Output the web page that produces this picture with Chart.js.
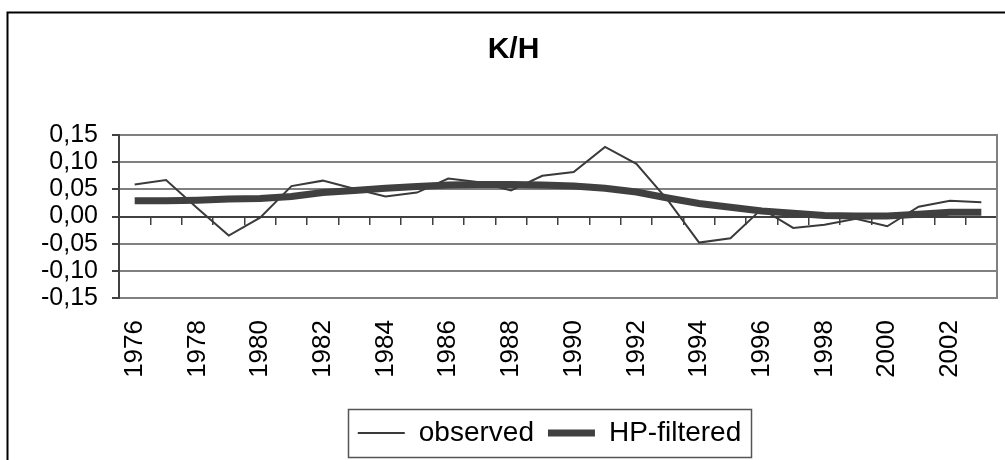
<!DOCTYPE html>
<html>
<head>
<meta charset="utf-8">
<script src="https://cdn.jsdelivr.net/npm/chart.js@4/dist/chart.umd.min.js"></script>
<style>
  html, body { margin: 0; padding: 0; background: #fff; }
  canvas { display: block; }
</style>
</head>
<body>
<canvas id="kh-chart" width="1005" height="460"></canvas>
<script>
// K/H: observed vs HP-filtered, 1976-2003
const years = ['1976', '1977', '1978', '1979', '1980', '1981', '1982', '1983', '1984', '1985',
  '1986', '1987', '1988', '1989', '1990', '1991', '1992', '1993', '1994', '1995',
  '1996', '1997', '1998', '1999', '2000', '2001', '2002', '2003'];

const observed = [0.059, 0.067, 0.015, -0.035, -0.002, 0.056, 0.066, 0.051, 0.037, 0.044,
  0.070, 0.063, 0.048, 0.075, 0.082, 0.128, 0.097, 0.030, -0.048, -0.040,
  0.014, -0.021, -0.015, -0.004, -0.018, 0.018, 0.029, 0.026];

const hpFiltered = [0.029, 0.029, 0.030, 0.032, 0.033, 0.037, 0.044, 0.048, 0.052, 0.055,
  0.058, 0.059, 0.059, 0.058, 0.056, 0.052, 0.045, 0.034, 0.024, 0.017,
  0.010, 0.006, 0.002, 0.001, 0.001, 0.004, 0.008, 0.008];

const yMin = -0.15;
const yMax = 0.15;
const yStep = 0.05;

const FONT = 'Arial, "Liberation Sans", sans-serif';
const legendCenterShift = 36; // legend sits a bit right of the canvas centre

// frame around the whole chart + box around the legend
const frames = {
  id: 'frames',
  afterLayout(chart) {
    const lg = chart.legend;
    lg.left += legendCenterShift;
    lg.right += legendCenterShift;
  },
  beforeDraw(chart) {
    const ctx = chart.ctx;
    ctx.save();
    ctx.strokeStyle = '#000';
    ctx.lineWidth = 2;
    ctx.strokeRect(7.5, 12.5, 1200, 600);
    ctx.restore();
  },
  afterDraw(chart) {
    const boxes = chart.legend.legendHitBoxes;
    if (!boxes || !boxes.length) return;
    const first = boxes[0];
    const last = boxes[boxes.length - 1];
    const cy = first.top + first.height / 2;
    const ctx = chart.ctx;
    ctx.save();
    ctx.strokeStyle = '#555';
    ctx.lineWidth = 1.5;
    ctx.strokeRect(Math.round(first.left - 10) + 0.5, Math.round(cy - 24) + 0.5,
      Math.round(last.left + last.width - first.left + 20), 48);
    ctx.restore();
  }
};

new Chart(document.getElementById('kh-chart'), {
  type: 'line',
  data: {
    labels: years,
    datasets: [
      {
        label: 'observed',
        data: observed,
        borderColor: '#3a3a3a',
        backgroundColor: '#3a3a3a',
        borderWidth: 2,
        pointRadius: 0,
        tension: 0,
        order: 1
      },
      {
        label: 'HP-filtered',
        data: hpFiltered,
        borderColor: '#404040',
        backgroundColor: '#404040',
        borderWidth: 7,
        pointRadius: 0,
        tension: 0,
        order: 0
      }
    ]
  },
  options: {
    responsive: false,
    animation: false,
    layout: { padding: { left: 22, right: 0, top: 12, bottom: 3 } },
    plugins: {
      title: {
        display: true,
        text: 'K/H',
        color: '#000',
        font: { family: FONT, size: 30, weight: 'bold' },
        padding: { top: 20, bottom: 67 }
      },
      legend: {
        position: 'bottom',
        labels: {
          color: '#000',
          font: { family: FONT, size: 28 },
          usePointStyle: true,
          pointStyle: 'line',
          pointStyleWidth: 47,
          padding: 14,
          sort: (a, b) => a.datasetIndex - b.datasetIndex
        }
      },
      tooltip: { enabled: false }
    },
    scales: {
      x: {
        type: 'category',
        position: 'bottom',
        offset: true,
        grid: { display: false, drawTicks: false },
        border: { display: false },
        ticks: {
          autoSkip: false,
          minRotation: 90,
          maxRotation: 90,
          padding: 22,
          color: '#000',
          font: { family: FONT, size: 26 },
          callback: function (value, index) {
            return index % 2 === 0 ? this.getLabelForValue(value) : '';
          }
        },
        afterFit: (scale) => {
          scale.height = 107;
          scale.paddingLeft = 0;
          scale.paddingRight = 0;
        }
      },
      xZero: {
        type: 'category',
        axis: 'x',
        position: { y: 0 },
        offset: true,
        grid: {
          display: true,
          offset: true,
          drawOnChartArea: false,
          drawTicks: true,
          tickLength: 7,
          color: '#404040',
          lineWidth: 1.5
        },
        border: { display: true, color: '#404040', width: 2 },
        ticks: { display: false }
      },
      y: {
        min: yMin,
        max: yMax,
        grid: {
          color: '#808080',
          lineWidth: 2,
          tickColor: '#404040',
          tickLength: 7
        },
        border: { color: '#404040', width: 2 },
        ticks: {
          stepSize: yStep,
          autoSkip: false,
          padding: 14,
          color: '#000',
          font: { family: FONT, size: 25 },
          callback: (v) => (Math.abs(v) < 1e-9 ? 0 : v).toFixed(2).replace('.', ',')
        },
        afterFit: (scale) => {
          scale.width = 97;
          scale.paddingTop = 0;
          scale.paddingBottom = 0;
        }
      },
      yEdge: {
        type: 'linear',
        position: 'right',
        min: yMin,
        max: yMax,
        grid: { drawOnChartArea: false, drawTicks: false },
        border: { color: '#808080', width: 2 },
        ticks: { display: false },
        afterFit: (scale) => { scale.width = 8; }
      }
    }
  },
  plugins: [frames]
});
</script>
</body>
</html>
